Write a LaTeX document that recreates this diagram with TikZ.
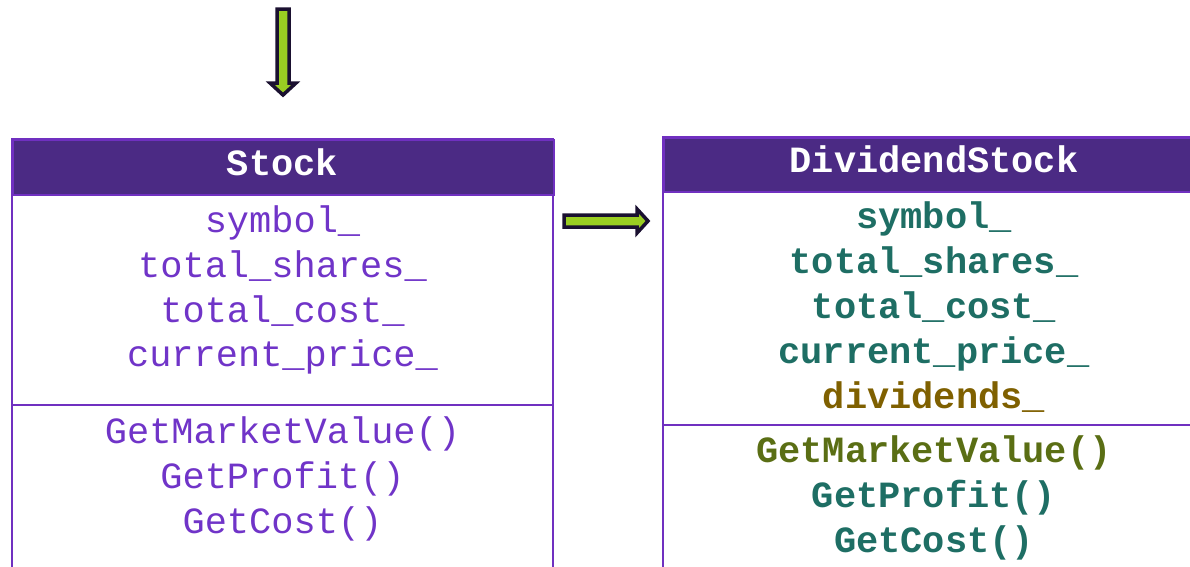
\documentclass[tikz,border=0pt]{standalone}
\usepackage{fontspec}
\setmonofont{Liberation Mono}
\definecolor{headfill}{RGB}{75,42,132}
\definecolor{frame}{RGB}{112,48,192}
\definecolor{basetext}{RGB}{112,52,200}
\definecolor{inherited}{RGB}{30,110,100}
\definecolor{added}{RGB}{127,96,0}
\definecolor{overridden}{RGB}{90,110,20}
\definecolor{arrowfill}{RGB}{154,205,34}
\definecolor{arrowedge}{RGB}{26,16,48}
\tikzset{
  header/.style={fill=headfill, draw=frame, line width=1.5pt, inner sep=0pt,
    text=white, font=\ttfamily\bfseries\fontsize{37}{37}\selectfont},
  frameline/.style={draw=frame, line width=1.5pt},
  member/.style={anchor=base, inner sep=0pt, font=\ttfamily\fontsize{37}{37}\selectfont},
  basemember/.style={member, text=basetext},
  submember/.style={member, text=inherited, font=\ttfamily\bfseries\fontsize{37}{37}\selectfont},
  blockarrow/.style={fill=arrowfill, draw=arrowedge, line width=3.5pt, line join=miter},
}
\begin{document}
\begin{tikzpicture}[x=1pt, y=-1pt]
\useasboundingbox (0,0) rectangle (1190,566);
\clip (0,0) rectangle (1190,566);

% Stock class box
\draw[frameline] (12,139) rectangle (553,600);
\node[header, minimum width=541pt, minimum height=55pt, anchor=north west] (stockhead) at (12,139) {};
\node[anchor=base, text=white, font=\ttfamily\bfseries\fontsize{37}{37}\selectfont, inner sep=0pt] (stockname) at (282.5,175) {Stock};
\draw[frameline, line width=1.2pt] (12,405) -- (553,405);
\node[basemember] (s1) at (282.5,232) {symbol\_};
\node[basemember] (s2) at (282.5,277) {total\_shares\_};
\node[basemember] (s3) at (282.5,322) {total\_cost\_};
\node[basemember] (s4) at (282.5,366) {current\_price\_};
\node[basemember] (s5) at (282.5,443) {GetMarketValue()};
\node[basemember] (s6) at (282.5,488) {GetProfit()};
\node[basemember] (s7) at (282.5,533) {GetCost()};

% DividendStock class box
\draw[frameline] (663,137) rectangle (1205,600);
\node[header, minimum width=542pt, minimum height=54pt, anchor=north west] (divhead) at (663,137) {};
\node[anchor=base, text=white, font=\ttfamily\bfseries\fontsize{37}{37}\selectfont, inner sep=0pt] (divname) at (934,172) {DividendStock};
\draw[frameline, line width=1.2pt] (663,425) -- (1205,425);
\node[submember] (d1) at (934,228) {symbol\_};
\node[submember] (d2) at (934,273) {total\_shares\_};
\node[submember] (d3) at (934,318) {total\_cost\_};
\node[submember] (d4) at (934,363) {current\_price\_};
\node[submember, text=added] (d5) at (934,408) {dividends\_};
\node[submember, text=overridden] (d6) at (934,462) {GetMarketValue()};
\node[submember] (d7) at (934,507) {GetProfit()};
\node[submember] (d8) at (934,552) {GetCost()};

% block arrow pointing down into Stock
\draw[blockarrow] (277,9) -- (289,9) -- (289,83) -- (296,83) -- (283,95) -- (270,83) -- (277,83) -- cycle;
% block arrow from Stock towards DividendStock
\draw[blockarrow] (564,215) -- (637,215) -- (637,209) -- (648,221) -- (637,233) -- (637,227) -- (564,227) -- cycle;
\end{tikzpicture}
\end{document}
